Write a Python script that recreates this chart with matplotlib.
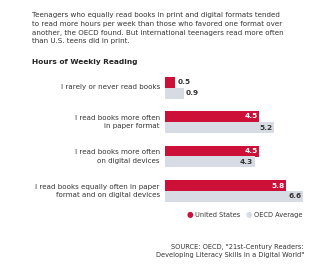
import matplotlib.pyplot as plt
import numpy as np

categories = [
    "I rarely or never read books",
    "I read books more often\nin paper format",
    "I read books more often\non digital devices",
    "I read books equally often in paper\nformat and on digital devices",
]
us_hours = [0.5, 4.5, 4.5, 5.8]
oecd_hours = [0.9, 5.2, 4.3, 6.6]
series_names = ["United States", "OECD Average"]

intro = ("Teenagers who equally read books in print and digital formats tended\n"
         "to read more hours per week than those who favored one format over\n"
         "another, the OECD found. But international teenagers read more often\n"
         "than U.S. teens did in print.")
source = ("SOURCE: OECD, \"21st-Century Readers:\n"
          "Developing Literacy Skills in a Digital World\"")

RED = "#cc1037"
GREY = "#d7dbe3"
TXT = "#333333"

W, H = 335, 268
fig = plt.figure(figsize=(W / 100, H / 100), dpi=100)
plt.rcParams['font.family'] = ['DejaVu Sans']

# axes placed in pixel coords
unit = 34.5
bar_px = 11
top_px, bot_px = 87.5 - bar_px, 191 + bar_px
ax = fig.add_axes([165 / W, 1 - bot_px / H, 138 / W, (bot_px - top_px) / H])

y = np.arange(len(categories))
h = bar_px / unit
ax.barh(y - h / 2, us_hours, height=h, color=RED)
ax.barh(y + h / 2, oecd_hours, height=h, color=GREY)
ax.set_xlim(0, 6.6)
ax.set_ylim(3 + h, -h)
ax.axis("off")

for i in range(len(categories)):
    for val, off, col_in in [(us_hours[i], -h / 2, "white"), (oecd_hours[i], h / 2, TXT)]:
        if val > 1.5:
            ax.text(val - 0.08, y[i] + off, f"{val:.1f}", ha="right", va="center",
                    fontsize=5.3, fontweight="bold", color=col_in)
        else:
            ax.text(val + 0.1, y[i] + off, f"{val:.1f}", ha="left", va="center",
                    fontsize=5.3, fontweight="bold", color=TXT)
    ax.text(-0.25, y[i], categories[i], ha="right", va="center", fontsize=5.1,
            color=TXT, linespacing=1.45)

fig.text(32 / W, 1 - 12.5 / H, intro, ha="left", va="top", fontsize=5.1,
         color=TXT, linespacing=1.5)
fig.text(32 / W, 1 - 62 / H, "Hours of Weekly Reading", ha="left", va="center",
         fontsize=5.3, fontweight="bold", color="#222222")

# legend
leg_y = 1 - 215 / H
fig.text(190 / W, leg_y, "\u25cf", color=RED, fontsize=5.5, ha="center", va="center")
fig.text(195 / W, leg_y, series_names[0], color=TXT, fontsize=4.8, ha="left", va="center")
fig.text(249 / W, leg_y, "\u25cf", color=GREY, fontsize=5.5, ha="center", va="center")
fig.text(254 / W, leg_y, series_names[1], color=TXT, fontsize=4.8, ha="left", va="center")

fig.text(304 / W, 1 - 244 / H, source, ha="right", va="top", fontsize=4.8,
         color=TXT, linespacing=1.5)

fig.savefig("out.png", dpi=100)
